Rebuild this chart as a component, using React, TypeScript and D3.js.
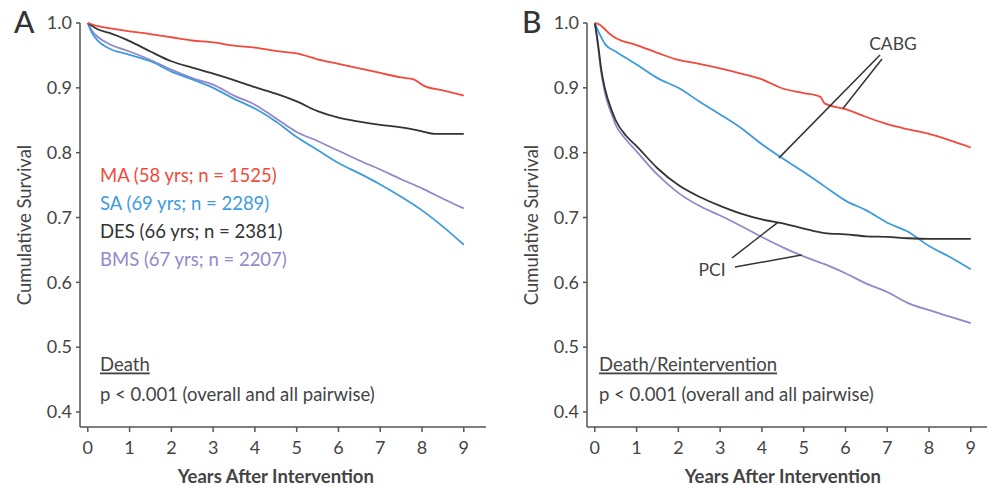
import React from "react";
import * as d3 from "d3";

// ---- data ----
const yTicks = [0.4, 0.5, 0.6, 0.7, 0.8, 0.9, 1.0];
const xTicks = [0, 1, 2, 3, 4, 5, 6, 7, 8, 9];

// panel A: death
const tA_MA = [0, 0.25, 0.5, 1, 1.5, 2, 2.5, 3, 3.5, 4, 4.5, 5, 5.5, 6, 6.5, 7, 7.5, 7.8, 8.05, 8.5, 9];
const vA_MA = [1, 0.995, 0.992, 0.987, 0.983, 0.978, 0.973, 0.97, 0.965, 0.962, 0.957, 0.953, 0.944, 0.937, 0.93, 0.923, 0.916, 0.913, 0.903, 0.896, 0.888];
const tA_DES = [0, 0.25, 0.5, 1, 1.5, 2, 2.5, 3, 3.5, 4, 4.5, 5, 5.5, 6, 6.5, 7, 7.5, 8, 8.3, 9];
const vA_DES = [1, 0.99, 0.985, 0.972, 0.956, 0.941, 0.931, 0.922, 0.912, 0.901, 0.891, 0.879, 0.864, 0.854, 0.848, 0.843, 0.839, 0.833, 0.829, 0.829];
const tA_SA = [0, 0.1, 0.25, 0.5, 1, 1.5, 2, 2.5, 3, 3.5, 4, 4.5, 5, 5.5, 6, 6.5, 7, 7.5, 8, 8.5, 9];
const vA_SA = [1, 0.985, 0.972, 0.961, 0.951, 0.941, 0.925, 0.913, 0.9, 0.883, 0.868, 0.848, 0.824, 0.804, 0.784, 0.768, 0.751, 0.732, 0.711, 0.686, 0.658];
const tA_BMS = [0, 0.1, 0.25, 0.5, 1, 1.5, 2, 2.5, 3, 3.5, 4, 4.5, 5, 5.5, 6, 6.5, 7, 7.5, 8, 8.5, 9];
const vA_BMS = [1, 0.988, 0.978, 0.968, 0.956, 0.943, 0.928, 0.915, 0.905, 0.888, 0.874, 0.853, 0.832, 0.818, 0.803, 0.788, 0.774, 0.759, 0.745, 0.729, 0.714];

// panel B: death / reintervention
const tB_MA = [0, 0.1, 0.2, 0.36, 0.5, 1, 1.5, 2, 2.5, 3, 3.5, 4, 4.5, 5, 5.4, 5.5, 6, 6.5, 7, 7.5, 8, 8.5, 9];
const vB_MA = [1, 0.998, 0.993, 0.983, 0.977, 0.966, 0.954, 0.943, 0.937, 0.93, 0.922, 0.913, 0.899, 0.892, 0.886, 0.876, 0.867, 0.855, 0.844, 0.836, 0.829, 0.819, 0.808];
const tB_SA = [0, 0.1, 0.25, 0.5, 1, 1.5, 2, 2.5, 3, 3.5, 4, 4.5, 5, 5.5, 6, 6.5, 7, 7.5, 8, 8.5, 9];
const vB_SA = [1, 0.985, 0.967, 0.956, 0.936, 0.915, 0.9, 0.879, 0.859, 0.838, 0.813, 0.791, 0.77, 0.748, 0.726, 0.711, 0.692, 0.678, 0.656, 0.639, 0.62];
const tB_DES = [0, 0.05, 0.1, 0.15, 0.25, 0.4, 0.5, 0.75, 1, 1.5, 2, 2.5, 3, 3.5, 4, 4.5, 5, 5.5, 6, 6.5, 7, 7.5, 8, 9];
const vB_DES = [1, 0.98, 0.956, 0.93, 0.897, 0.866, 0.85, 0.826, 0.81, 0.776, 0.75, 0.732, 0.718, 0.706, 0.697, 0.691, 0.683, 0.676, 0.674, 0.671, 0.67, 0.668, 0.667, 0.667];
const tB_BMS = [0, 0.05, 0.1, 0.15, 0.25, 0.4, 0.5, 0.75, 1, 1.5, 2, 2.5, 3, 3.5, 4, 4.5, 5, 5.5, 6, 6.5, 7, 7.5, 8, 8.5, 9];
const vB_BMS = [1, 0.978, 0.952, 0.925, 0.89, 0.86, 0.843, 0.82, 0.802, 0.766, 0.738, 0.718, 0.703, 0.687, 0.67, 0.654, 0.64, 0.628, 0.614, 0.598, 0.585, 0.568, 0.557, 0.547, 0.537];

const legendLabels = ["MA (58 yrs; n = 1525)", "SA (69 yrs; n = 2289)", "DES (66 yrs; n = 2381)", "BMS (67 yrs; n = 2207)"];

// annotation targets (year, survival) in panel B
const cabgTargets = [[4.41, 0.792], [5.94, 0.868]];
const pciTargets = [[4.39, 0.693], [4.95, 0.642]];

const RED = "#f2493b";
const BLUE = "#3d9be0";
const BLACK = "#333333";
const PURPLE = "#9388c9";
const FONT = "Lato, 'Open Sans', sans-serif";

const zip = (t: number[], v: number[]) => t.map((d, i) => [d, v[i]] as [number, number]);

type Series = { pts: [number, number][]; color: string };

function Panel(props: {
  left: number;
  letter: string;
  letterX: number;
  series: Series[];
  title: string;
  textX: number;
  axisEnd: number;
  children?: (x: d3.ScaleLinear<number, number>, y: d3.ScaleLinear<number, number>) => React.ReactNode;
}) {
  const { left, letter, letterX, series, title, textX, axisEnd } = props;
  const axisX = left;
  const x = d3.scaleLinear().domain([0, 9]).range([left + 7.8, left + 7.8 + 376]);
  const y = d3.scaleLinear().domain([0.4, 1.0]).range([412, 23]);
  const baseY = 427;
  const line = d3
    .line<[number, number]>()
    .x((d) => x(d[0]))
    .y((d) => y(d[1]))
    .curve(d3.curveMonotoneX);

  return (
    <g fontFamily={FONT}>
      <text x={letterX} y={33} fontSize={30} fill="#333" fontWeight={500}>
        {letter}
      </text>
      {/* axes */}
      <line x1={axisX} x2={axisX} y1={y(1.0)} y2={baseY} stroke="#555" strokeWidth={1.5} />
      <line x1={axisX} x2={axisEnd} y1={baseY} y2={baseY} stroke="#555" strokeWidth={1.5} />
      {yTicks.map((t) => (
        <g key={t}>
          <line x1={axisX - 4} x2={axisX} y1={y(t)} y2={y(t)} stroke="#555" strokeWidth={1.5} />
          <text x={axisX - 8} y={y(t)} dy="0.35em" textAnchor="end" fontSize={18} fill="#444">
            {t.toFixed(1)}
          </text>
        </g>
      ))}
      {xTicks.map((t) => (
        <g key={t}>
          <line x1={x(t)} x2={x(t)} y1={baseY} y2={baseY + 5} stroke="#555" strokeWidth={1.5} />
          <text x={x(t)} y={448} dy="0.35em" textAnchor="middle" fontSize={18} fill="#444">
            {t}
          </text>
        </g>
      ))}
      <text
        x={(x(0) + x(9)) / 2}
        y={477}
        dy="0.35em"
        textAnchor="middle"
        fontSize={18.5}
        fontWeight={700}
        fill="#444"
      >
        Years After Intervention
      </text>
      <text
        transform={`translate(${left - 55},225) rotate(-90)`}
        textAnchor="middle"
        dy="0.35em"
        fontSize={18.5}
        fill="#444"
      >
        Cumulative Survival
      </text>
      {series.map((s, i) => (
        <path key={i} d={line(s.pts) ?? ""} fill="none" stroke={s.color} strokeWidth={1.8} />
      ))}
      <text x={textX} y={365} dy="0.35em" fontSize={18.5} fill="#444" textDecoration="underline">
        {title}
      </text>
      <text x={textX} y={395} dy="0.35em" fontSize={18.5} fill="#444">
        p &lt; 0.001 (overall and all pairwise)
      </text>
      {props.children ? props.children(x, y) : null}
    </g>
  );
}

export default function App() {
  const seriesA: Series[] = [
    { pts: zip(tA_BMS, vA_BMS), color: PURPLE },
    { pts: zip(tA_SA, vA_SA), color: BLUE },
    { pts: zip(tA_DES, vA_DES), color: BLACK },
    { pts: zip(tA_MA, vA_MA), color: RED },
  ];
  const seriesB: Series[] = [
    { pts: zip(tB_BMS, vB_BMS), color: PURPLE },
    { pts: zip(tB_SA, vB_SA), color: BLUE },
    { pts: zip(tB_DES, vB_DES), color: BLACK },
    { pts: zip(tB_MA, vB_MA), color: RED },
  ];
  const legendColors = [RED, BLUE, "#333", PURPLE];

  return (
    <svg
      width={987}
      height={489}
      style={{ position: "absolute", left: 0, top: 0, display: "block", background: "#fff" }}
    >
      <Panel left={80} letter="A" letterX={14} series={seriesA} title="Death" textX={100} axisEnd={486}>
        {() => (
          <g>
            {legendLabels.map((l, i) => (
              <text key={l} x={100} y={176 + i * 28} dy="0.35em" fontSize={18.5} fill={legendColors[i]}>
                {l}
              </text>
            ))}
          </g>
        )}
      </Panel>
      <Panel left={587} letter="B" letterX={522} series={seriesB} title="Death/Reintervention" textX={599} axisEnd={987}>
        {(x, y) => (
          <g>
            <text x={893} y={44} dy="0.35em" textAnchor="middle" fontSize={17.5} fill="#444">
              CABG
            </text>
            <line x1={880} y1={55} x2={x(cabgTargets[0][0])} y2={y(cabgTargets[0][1])} stroke="#333" strokeWidth={1.5} />
            <line x1={882} y1={59} x2={x(cabgTargets[1][0])} y2={y(cabgTargets[1][1])} stroke="#333" strokeWidth={1.5} />
            <text x={712} y={270} dy="0.35em" textAnchor="middle" fontSize={17.5} fill="#444">
              PCI
            </text>
            <line x1={732} y1={258} x2={x(pciTargets[0][0])} y2={y(pciTargets[0][1])} stroke="#333" strokeWidth={1.5} />
            <line x1={735} y1={267} x2={x(pciTargets[1][0])} y2={y(pciTargets[1][1])} stroke="#333" strokeWidth={1.5} />
          </g>
        )}
      </Panel>
    </svg>
  );
}
